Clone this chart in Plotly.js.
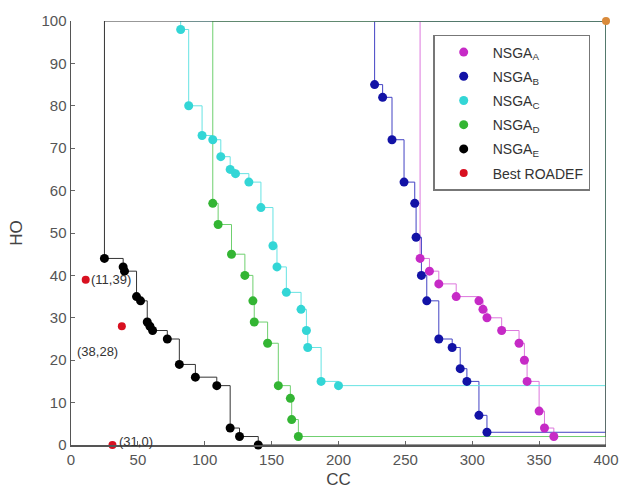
<!DOCTYPE html>
<html>
<head>
<meta charset="utf-8">
<script src="https://cdn.plot.ly/plotly-3.0.1.min.js"></script>
<style>
  html, body { margin: 0; padding: 0; background: #ffffff; }
  #chart { width: 620px; height: 495px; }
</style>
</head>
<body>
<div id="chart"></div>
<script>
// ---- data ----
const seriesNames = ["NSGA<sub>A</sub>", "NSGA<sub>B</sub>", "NSGA<sub>C</sub>", "NSGA<sub>D</sub>", "NSGA<sub>E</sub>"];

const ccA = [261, 268, 275, 288, 305, 308, 311, 322, 335, 339, 341, 350, 354, 361];
const hoA = [44, 41, 38, 35, 34, 32, 30, 27, 24, 20, 15, 8, 4, 2];

const ccB = [227, 233, 240, 249, 257, 258, 262, 266, 275, 285, 291, 296, 305, 311];
const hoB = [85, 82, 72, 62, 57, 49, 40, 34, 25, 23, 18, 15, 7, 3];

const ccC = [82, 88, 98, 106, 112, 119, 123, 133, 142, 151, 154, 161, 172, 176, 177, 187, 200];
const hoC = [98, 80, 73, 72, 68, 65, 64, 62, 56, 47, 42, 36, 32, 27, 23, 15, 14];

const ccD = [106, 110, 120, 130, 136, 137, 147, 155, 164, 165, 170];
const hoD = [57, 52, 45, 40, 34, 29, 24, 14, 11, 6, 2];

const ccE = [25, 39, 40, 49, 52, 57, 59, 61, 72, 81, 93, 109, 119, 126, 140];
const hoE = [44, 42, 41, 35, 34, 29, 28, 27, 25, 19, 16, 14, 4, 2, 0];

const roadefName = "Best ROADEF";
const ccRoadef = [11, 38, 31];
const hoRoadef = [39, 28, 0];
const roadefLabels = ["(11,39)", "(38,28)", "(31,0)"];

const refCC = [400];
const refHO = [100];

const xTicks = [0, 50, 100, 150, 200, 250, 300, 350, 400];
const yTicks = [0, 10, 20, 30, 40, 50, 60, 70, 80, 90, 100];

// ---- styles ----
const markerColors = ["#c62ac6", "#1212a6", "#33d6d6", "#33b533", "#000000"];
const lineColors   = ["#dd77dd", "#4343c4", "#66e3e3", "#6fd06f", "#333333"];

const ccs = [ccA, ccB, ccC, ccD, ccE];
const hos = [hoA, hoB, hoC, hoD, hoE];

const traces = [];

// staircase attainment lines (closed to the reference point)
for (let i = 0; i < ccs.length; i++) {
  const cc = ccs[i], ho = hos[i];
  const xs = [refCC[0]].concat(cc, [refCC[0], refCC[0]]);
  const ys = [refHO[0]].concat(ho, [ho[ho.length - 1], refHO[0]]);
  traces.push({
    x: xs, y: ys, type: "scatter", mode: "lines",
    line: { color: lineColors[i], width: 1, shape: "hv" },
    showlegend: false, hoverinfo: "skip", cliponaxis: false
  });
}

// markers
for (let i = 0; i < ccs.length; i++) {
  traces.push({
    x: ccs[i], y: hos[i], type: "scatter", mode: "markers",
    name: seriesNames[i], legendgroup: "g" + i,
    marker: { color: markerColors[i], size: 9 },
    cliponaxis: false
  });
}

traces.push({
  x: ccRoadef, y: hoRoadef, type: "scatter", mode: "markers",
  name: roadefName, legendgroup: "g5",
  marker: { color: "#d81020", size: 8 },
  cliponaxis: false
});

traces.push({
  x: refCC, y: refHO, type: "scatter", mode: "markers",
  showlegend: false,
  marker: { color: "#d98a3a", size: 8 },
  cliponaxis: false
});

// label offsets for the ROADEF annotations (pixels)
const labelShiftX = [25, -24, 24];
const labelShiftY = [0, -25, 4];
const annotations = roadefLabels.map((t, i) => ({
  x: ccRoadef[i], y: hoRoadef[i], text: t, showarrow: false,
  xshift: labelShiftX[i], yshift: labelShiftY[i],
  font: { family: "Liberation Sans, Arial, sans-serif", size: 13, color: "#333333" }
}));

const layout = {
  width: 620, height: 495,
  margin: { l: 71, r: 14, t: 21, b: 50 },
  paper_bgcolor: "#ffffff", plot_bgcolor: "#ffffff",
  font: { family: "Liberation Sans, Arial, sans-serif", color: "#333333" },
  showlegend: true,
  legend: {
    x: 0.677, y: 0.967, xanchor: "left", yanchor: "top",
    bgcolor: "#ffffff", bordercolor: "#777777", borderwidth: 1.5,
    font: { size: 14, color: "#333333" },
    itemsizing: "trace", itemwidth: 48, tracegroupgap: 3
  },
  xaxis: {
    range: [0, 400], tickvals: xTicks, ticktext: xTicks.map(String),
    ticks: "inside", ticklen: 4, tickcolor: "#666666",
    showline: true, linecolor: "#555555", linewidth: 1.5,
    showgrid: false, zeroline: false,
    tickfont: { size: 15, color: "#555555" },
    title: { text: "CC", font: { size: 17, color: "#444444" }, standoff: 6 }
  },
  yaxis: {
    range: [0, 100], tickvals: yTicks, ticktext: yTicks.map(String),
    ticks: "inside", ticklen: 4, tickcolor: "#666666",
    showline: true, linecolor: "#555555", linewidth: 1.5,
    showgrid: false, zeroline: false,
    tickfont: { size: 15, color: "#555555" },
    title: { text: "HO", font: { size: 17, color: "#444444" }, standoff: 14 }
  },
  annotations: annotations
};

Plotly.newPlot("chart", traces, layout, { displayModeBar: false, staticPlot: true });
</script>
</body>
</html>
